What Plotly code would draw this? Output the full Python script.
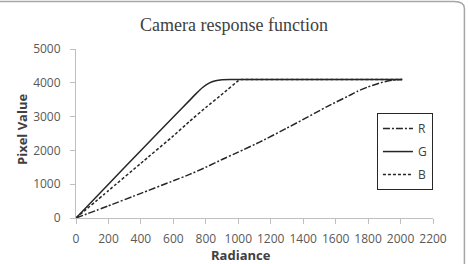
import plotly.graph_objects as go

r_x = [0, 200, 400, 600, 700, 800, 900, 1000, 1134, 1300, 1565, 1700, 1730, 1800, 1890, 1950, 2010]
r_y = [0, 360, 730, 1100, 1290, 1500, 1730, 1950, 2250, 2660, 3340, 3660, 3740, 3880, 4020, 4080, 4095]
g_x = [0, 200, 400, 600, 700, 740, 780, 820, 860, 900, 950, 1500, 2010]
g_y = [0, 1000, 2000, 2990, 3480, 3680, 3860, 3990, 4060, 4090, 4095, 4095, 4095]
b_x = [0, 200, 400, 600, 700, 800, 900, 1000, 1020, 1500, 2010]
b_y = [0, 810, 1620, 2430, 2860, 3270, 3660, 4060, 4095, 4095, 4095]
x_ticks = list(range(0, 2201, 200))
y_ticks = list(range(0, 5001, 1000))

fig = go.Figure()
line_col = "#262626"
fig.add_trace(go.Scatter(x=r_x, y=r_y, mode="lines", name="R", legendgroup="r",
                         line=dict(color=line_col, width=1.5, dash="7px,2px,2px,2px", shape="spline", smoothing=0.3)))
fig.add_trace(go.Scatter(x=g_x, y=g_y, mode="lines", name="G", legendgroup="g",
                         line=dict(color=line_col, width=1.5, shape="spline", smoothing=0.3)))
fig.add_trace(go.Scatter(x=b_x, y=b_y, mode="lines", name="B", legendgroup="b",
                         line=dict(color=line_col, width=1.5, dash="3px,2px", shape="spline", smoothing=0.3)))

fam = "Open Sans, Noto Sans, sans-serif"
axis_font = dict(family=fam, size=12, color="#595959")
fig.update_layout(
    width=468, height=264,
    margin=dict(l=76, r=35, t=49, b=46),
    paper_bgcolor="white", plot_bgcolor="white",
    title=dict(text="Camera response function", x=0.5, xanchor="center", y=0.905, yanchor="middle",
               font=dict(family="Liberation Serif, Times New Roman, serif", size=18, color="#404040")),
    xaxis=dict(range=[0, 2200], tickvals=x_ticks, showgrid=False, zeroline=False, automargin=False,
               showline=True, linecolor="#bfbfbf", linewidth=1, ticks="outside", ticklen=5,
               tickcolor="#bfbfbf", tickfont=axis_font, ticklabelstandoff=5),
    yaxis=dict(range=[0, 5000], tickvals=y_ticks, showgrid=False, zeroline=False, automargin=False,
               showline=True, linecolor="#bfbfbf", linewidth=1, ticks="outside", ticklen=5,
               tickcolor="#bfbfbf", tickfont=axis_font, ticklabelstandoff=7),
    legend=dict(x=0.843, y=0.621, xanchor="left", yanchor="top", bordercolor="#262626", borderwidth=1,
                bgcolor="white", tracegroupgap=4, itemwidth=30,
                font=dict(family=fam, size=12, color="#404040")),
    showlegend=True,
)
title_font = dict(family=fam, size=13, color="#404040")
fig.add_annotation(text="<b>Radiance</b>", xref="paper", yref="paper", x=(241 - 76) / 357, y=-(255 - 218) / 169,
                   xanchor="center", yanchor="middle", showarrow=False, font=title_font, borderpad=0)
fig.add_annotation(text="<b>Pixel Value</b>", xref="paper", yref="paper", x=-(76 - 22) / 357, y=(218 - 130) / 169,
                   xanchor="center", yanchor="middle", showarrow=False, textangle=-90, font=title_font, borderpad=0)
fig.add_shape(type="path", xref="paper", yref="paper",
              path="M -0.3,-0.4 L -0.3,1.281 L 1.059,1.281 Q 1.088,1.281 1.088,1.24 L 1.088,-0.4 Z",
              line=dict(color="#a6a6a6", width=1.5), fillcolor="rgba(0,0,0,0)", layer="above")
fig.write_html("out.html")
